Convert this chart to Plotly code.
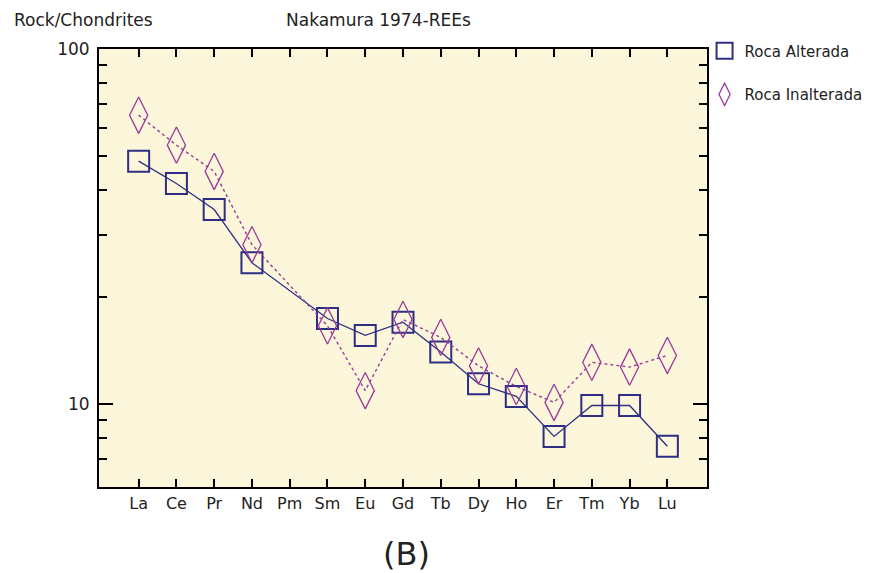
import plotly.graph_objects as go

elements = ["La", "Ce", "Pr", "Nd", "Pm", "Sm", "Eu", "Gd", "Tb", "Dy", "Ho", "Er", "Tm", "Yb", "Lu"]
roca_alterada = [48.3, 41.8, 35.3, 25.0, None, 17.4, 15.6, 17.0, 14.0, 11.4, 10.5, 8.1, 9.9, 9.9, 7.6]
roca_inalterada = [65.1, 53.6, 45.2, 28.1, None, 16.6, 10.9, 17.3, 15.4, 12.8, 11.2, 10.1, 13.1, 12.7, 13.7]
y_major = [10, 100]
y_minor = [7, 8, 9, 20, 30, 40, 50, 60, 70, 80, 90]

navy = "#2e2e85"
purple = "#9a3a9a"
font = "DejaVu Sans, Verdana, sans-serif"
txt = "#222222"

fig = go.Figure()
fig.add_trace(go.Scatter(
    x=elements, y=roca_alterada, mode="lines+markers", connectgaps=True,
    line=dict(color=navy, width=1.3),
    marker=dict(symbol="square-open", size=21, color=navy, line=dict(width=2, color=navy)),
    showlegend=False))
fig.add_trace(go.Scatter(
    x=elements, y=roca_inalterada, mode="lines+markers", connectgaps=True,
    line=dict(color=purple, width=1.4, dash="dot"),
    marker=dict(symbol="diamond-tall-open", size=26, color=purple, line=dict(width=1.3, color=purple)),
    showlegend=False))
# legend entries (markers only)
fig.add_trace(go.Scatter(
    x=[None], y=[None], mode="markers", name="Roca Alterada", legendgroup="a",
    marker=dict(symbol="square-open", size=18, color=navy, line=dict(width=2, color=navy))))
fig.add_trace(go.Scatter(
    x=[None], y=[None], mode="markers", name="Roca Inalterada", legendgroup="b",
    marker=dict(symbol="diamond-tall-open", size=22, color=purple, line=dict(width=1.3, color=purple))))

fig.update_layout(
    width=872, height=565,
    margin=dict(l=91, r=170, t=41, b=86),
    paper_bgcolor="white",
    plot_bgcolor="#fcf7da",
    font=dict(family=font, size=16, color=txt),
    legend=dict(x=0.996, y=1.033, xanchor="left", yanchor="top",
                font=dict(size=15, family=font, color=txt),
                bgcolor="rgba(0,0,0,0)", itemsizing="trace",
                traceorder="grouped", tracegroupgap=21),
    annotations=[
        dict(text="Rock/Chondrites", xref="paper", yref="paper", x=-0.143, y=1.066,
             xanchor="left", yanchor="middle", showarrow=False,
             font=dict(size=17, family=font, color=txt)),
        dict(text="Nakamura 1974-REEs", xref="paper", yref="paper", x=0.304, y=1.066,
             xanchor="left", yanchor="middle", showarrow=False,
             font=dict(size=17, family=font, color=txt)),
        dict(text="(B)", xref="paper", yref="paper", x=0.505, y=-0.153,
             xanchor="center", yanchor="middle", showarrow=False,
             font=dict(size=32, family=font, color=txt)),
    ],
)
fig.update_xaxes(
    type="category", range=[-1.05, 15.05], showgrid=False, zeroline=False,
    showline=True, linecolor="black", linewidth=2, mirror="ticks",
    ticks="inside", ticklen=8, tickwidth=2, tickcolor="black",
    tickfont=dict(size=16, family=font, color=txt), ticklabelstandoff=1,
)
fig.update_yaxes(
    type="log", range=[0.766, 2.0], showgrid=False, zeroline=False,
    showline=True, linecolor="black", linewidth=2, mirror="ticks",
    ticks="inside", ticklen=14, tickwidth=2, tickcolor="black",
    tickmode="array", tickvals=y_major, ticktext=[str(v) for v in y_major],
    tickfont=dict(size=17, family=font, color=txt), ticklabelstandoff=4,
    minor=dict(ticks="inside", tickmode="array", tickvals=y_minor, ticklen=8,
               tickwidth=2, tickcolor="black", showgrid=False),
)

fig.write_html("out.html")
